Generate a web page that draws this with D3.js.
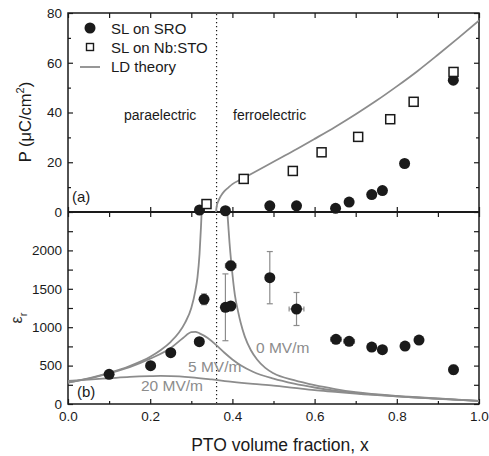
<!DOCTYPE html>
<html>
<head>
<meta charset="utf-8">
<script src="https://cdn.jsdelivr.net/npm/d3@7"></script>
<style>
	body { margin: 0; background: #fff; }
	svg text { font-family: "Liberation Sans", Arial, sans-serif; }
</style>
</head>
<body>
<svg id="canvas" width="489" height="456"></svg>
<script>
// panel (a): polarisation
const sroX = [0.32, 0.383, 0.491, 0.556, 0.651, 0.684, 0.739, 0.765, 0.819, 0.9375];
const sroP = [0.8, 0.5, 2.5, 2.5, 1.5, 4, 7, 8.6, 19.5, 53];
const nbX = [0.337, 0.4275, 0.547, 0.617, 0.706, 0.784, 0.841, 0.938];
const nbP = [3.2, 13.3, 16.5, 24, 30.2, 37.3, 44.3, 56.3];
const ldX = [0.36, 0.362, 0.366, 0.372, 0.38, 0.39, 0.40, 0.42, 0.45, 0.5, 0.55, 0.6, 0.65, 0.7, 0.75, 0.8, 0.85, 0.9, 0.95, 1.0];
const ldP = [0, 2.5, 4.5, 6.5, 8.3, 9.8, 11.2, 13.0, 15.7, 20.2, 24.7, 29.4, 34.2, 39.3, 44.7, 50.5, 56.6, 63.2, 70.0, 77.0];

// panel (b): dielectric constant
const epsX = [0.1, 0.201, 0.25, 0.3195, 0.331, 0.383, 0.396, 0.396, 0.491, 0.556, 0.652, 0.684, 0.739, 0.765, 0.82, 0.854, 0.938];
const epsV = [387, 499, 668, 811, 1363, 1259, 1276, 1801, 1645, 1237, 842, 816, 742, 707, 755, 833, 447];
const epsXErr = [0, 0, 0, 0.01, 0, 0, 0.01, 0.013, 0, 0.018, 0.013, 0.013, 0.008, 0, 0, 0, 0];
const epsYErr = [0, 0, 0, 0, 70, 435, 0, 60, 340, 215, 0, 0, 0, 0, 0, 0, 60];

const e0LeftX = [0, 0.05, 0.1, 0.15, 0.2, 0.225, 0.25, 0.27, 0.285, 0.3, 0.31, 0.315, 0.32, 0.3235, 0.326];
const e0LeftE = [280, 335, 405, 495, 615, 700, 810, 930, 1060, 1250, 1480, 1650, 1950, 2300, 2600];
const e0RightX = [0.386, 0.389, 0.393, 0.398, 0.406, 0.414, 0.42, 0.43, 0.445, 0.46, 0.48, 0.5, 0.55, 0.6, 0.65, 0.7, 0.8, 0.9, 1.0];
const e0RightE = [2600, 2400, 2100, 1800, 1420, 1200, 1060, 880, 700, 580, 470, 400, 310, 245, 195, 155, 105, 72, 40];
const e5X = [0, 0.05, 0.1, 0.15, 0.2, 0.25, 0.28, 0.3, 0.31, 0.32, 0.34, 0.36, 0.38, 0.4, 0.42, 0.45, 0.5, 0.55, 0.6, 0.65, 0.7, 0.8, 0.9, 1.0];
const e5E = [280, 330, 400, 480, 590, 730, 860, 935, 940, 920, 860, 770, 670, 580, 505, 420, 330, 265, 215, 175, 145, 100, 70, 40];
const e20X = [0, 0.05, 0.1, 0.15, 0.2, 0.225, 0.25, 0.3, 0.35, 0.4, 0.45, 0.5, 0.55, 0.6, 0.65, 0.7, 0.8, 0.9, 1.0];
const e20E = [300, 318, 335, 352, 362, 365, 364, 348, 320, 288, 262, 240, 210, 180, 158, 135, 98, 68, 40];

const pTicks = [0, 20, 40, 60, 80];
const pMinor = [10, 30, 50, 70];
const eTicks = [0, 500, 1000, 1500, 2000];
const eMinor = [250, 750, 1250, 1750, 2250];
const xTicks = [0, 0.2, 0.4, 0.6, 0.8, 1.0];
const xMinor = [0.1, 0.3, 0.5, 0.7, 0.9];

const grey = '#8c8c8c';
const ink = '#1a1a1a';

const svg = d3.select('#canvas');

const x = d3.scaleLinear().domain([0, 1]).range([68, 479]);
const yP = d3.scaleLinear().domain([0, 80]).range([212, 13]);
const yE = d3.scaleLinear().domain([0, 2500]).range([404, 212]);

const zip = (xs, ys) => xs.map((v, i) => [v, ys[i]]);

// clip regions
const defs = svg.append('defs');
defs.append('clipPath').attr('id', 'clipA')
	.append('rect').attr('x', 68).attr('y', 13).attr('width', 411).attr('height', 199);
defs.append('clipPath').attr('id', 'clipB')
	.append('rect').attr('x', 68).attr('y', 212).attr('width', 411).attr('height', 192);

// axes helper: draws ticks only, no domain
function ticks(axis, tx, ty, label) {
	const g = svg.append('g').attr('transform', `translate(${tx},${ty})`).call(axis);
	g.select('.domain').remove();
	g.selectAll('.tick line').attr('stroke', ink).attr('stroke-width', 1.2);
	g.selectAll('.tick text').attr('fill', ink).style('font-size', '13.5px');
	if (!label) g.selectAll('.tick text').remove();
	return g;
}

// panel a axes
ticks(d3.axisLeft(yP).tickValues(pTicks).tickSize(-5).tickPadding(6).tickFormat(d3.format('d')), 68, 0, true);
ticks(d3.axisLeft(yP).tickValues(pMinor).tickSize(-3), 68, 0, false);
ticks(d3.axisRight(yP).tickValues(pTicks).tickSize(-5), 479, 0, false);
ticks(d3.axisRight(yP).tickValues(pMinor).tickSize(-3), 479, 0, false);
ticks(d3.axisTop(x).tickValues(xTicks.concat(xMinor)).tickSize(-5), 0, 13, false);
ticks(d3.axisBottom(x).tickValues(xTicks).tickSize(-5), 0, 212, false);

// panel b axes
ticks(d3.axisLeft(yE).tickValues(eTicks).tickSize(-5).tickPadding(6).tickFormat(d3.format('d')), 68, 0, true);
ticks(d3.axisLeft(yE).tickValues(eMinor).tickSize(-5), 68, 0, false);
ticks(d3.axisRight(yE).tickValues(eTicks.concat(eMinor)).tickSize(-5), 479, 0, false);
ticks(d3.axisTop(x).tickValues(xTicks.concat(xMinor)).tickSize(-5), 0, 212, false);
ticks(d3.axisBottom(x).tickValues(xTicks).tickSize(-5).tickPadding(7).tickFormat(d3.format('.1f')), 0, 404, true);
ticks(d3.axisBottom(x).tickValues(xMinor).tickSize(-3), 0, 404, false);

// frame
svg.append('rect')
	.attr('x', 68).attr('y', 13).attr('width', 411).attr('height', 391)
	.attr('fill', 'none').attr('stroke', ink).attr('stroke-width', 1.5);
svg.append('line')
	.attr('x1', 68).attr('x2', 479).attr('y1', 212).attr('y2', 212)
	.attr('stroke', ink).attr('stroke-width', 2.2);

// phase boundary
svg.append('line')
	.attr('x1', x(0.3615)).attr('x2', x(0.3615)).attr('y1', 14).attr('y2', 403)
	.attr('stroke', ink).attr('stroke-width', 1.2).attr('stroke-dasharray', '1.3,2.7');

// theory curves
const lineP = d3.line().x((d) => x(d[0])).y((d) => yP(d[1])).curve(d3.curveMonotoneX);
const lineE = d3.line().x((d) => x(d[0])).y((d) => yE(d[1])).curve(d3.curveMonotoneX);

svg.append('path').datum(zip(ldX, ldP))
	.attr('d', lineP).attr('clip-path', 'url(#clipA)')
	.attr('fill', 'none').attr('stroke', grey).attr('stroke-width', 1.8);

[zip(e0LeftX, e0LeftE), zip(e0RightX, e0RightE), zip(e5X, e5E), zip(e20X, e20E)].forEach((d) => {
	svg.append('path').datum(d)
		.attr('d', lineE).attr('clip-path', 'url(#clipB)')
		.attr('fill', 'none').attr('stroke', grey).attr('stroke-width', 1.8);
});

// error bars
const errs = svg.append('g').attr('stroke', grey).attr('stroke-width', 1.2);
epsX.forEach((xv, i) => {
	const cx = x(xv), cy = yE(epsV[i]);
	if (epsYErr[i] > 0) {
		const y1 = yE(epsV[i] + epsYErr[i]), y2 = yE(epsV[i] - epsYErr[i]);
		errs.append('line').attr('x1', cx).attr('x2', cx).attr('y1', y1).attr('y2', y2);
		errs.append('line').attr('x1', cx - 3).attr('x2', cx + 3).attr('y1', y1).attr('y2', y1);
		errs.append('line').attr('x1', cx - 3).attr('x2', cx + 3).attr('y1', y2).attr('y2', y2);
	}
	if (epsXErr[i] > 0) {
		const x1 = x(xv - epsXErr[i]), x2 = x(xv + epsXErr[i]);
		errs.append('line').attr('x1', x1).attr('x2', x2).attr('y1', cy).attr('y2', cy);
		errs.append('line').attr('x1', x1).attr('x2', x1).attr('y1', cy - 2.5).attr('y2', cy + 2.5);
		errs.append('line').attr('x1', x2).attr('x2', x2).attr('y1', cy - 2.5).attr('y2', cy + 2.5);
	}
});

// markers
svg.append('g').selectAll('circle')
	.data(zip(sroX, sroP))
	.enter()
	.append('circle')
	.attr('cx', (d) => x(d[0]))
	.attr('cy', (d) => yP(d[1]))
	.attr('r', 5.5)
	.attr('fill', ink);

svg.append('g').selectAll('rect')
	.data(zip(nbX, nbP))
	.enter()
	.append('rect')
	.attr('x', (d) => x(d[0]) - 4.5)
	.attr('y', (d) => yP(d[1]) - 4.5)
	.attr('width', 9)
	.attr('height', 9)
	.attr('fill', '#fff')
	.attr('stroke', ink)
	.attr('stroke-width', 1.5);

svg.append('g').selectAll('circle')
	.data(zip(epsX, epsV))
	.enter()
	.append('circle')
	.attr('cx', (d) => x(d[0]))
	.attr('cy', (d) => yE(d[1]))
	.attr('r', 5.5)
	.attr('fill', ink);

// legend
svg.append('circle').attr('cx', 90).attr('cy', 28).attr('r', 5.5).attr('fill', ink);
svg.append('rect').attr('x', 86.5).attr('y', 43.5).attr('width', 7).attr('height', 7)
	.attr('fill', '#fff').attr('stroke', ink).attr('stroke-width', 1.4);
svg.append('line').attr('x1', 80).attr('x2', 100).attr('y1', 67).attr('y2', 67)
	.attr('stroke', grey).attr('stroke-width', 1.8);
const legendText = ['SL on SRO', 'SL on Nb:STO', 'LD theory'];
svg.append('g').selectAll('text')
	.data(legendText)
	.enter()
	.append('text')
	.attr('x', 111)
	.attr('y', (d, i) => 33.5 + i * 19)
	.style('font-size', '15px')
	.attr('fill', ink)
	.text((d) => d);

// annotations
const note = (txt, tx, ty, size, col) => svg.append('text')
	.attr('x', tx).attr('y', ty).style('font-size', size).attr('fill', col).text(txt);
note('paraelectric', 124, 120, '14px', ink);
note('ferroelectric', 233, 120, '14px', ink);
note('(a)', 72, 202, '15px', ink);
note('(b)', 77, 397, '15px', ink);
note('0 MV/m', 256, 353, '15.5px', grey);
note('5 MV/m', 188, 371.5, '15.5px', grey);
note('20 MV/m', 141, 391, '15.5px', grey);

// axis titles
svg.append('text')
	.attr('x', 280).attr('y', 451)
	.attr('text-anchor', 'middle')
	.style('font-size', '17.5px')
	.attr('fill', ink)
	.text('PTO volume fraction, x');

const pLab = svg.append('text')
	.attr('transform', 'translate(31,122) rotate(-90)')
	.attr('text-anchor', 'middle')
	.style('font-size', '16.5px')
	.attr('fill', ink);
pLab.append('tspan').text('P (\u03bcC/cm');
pLab.append('tspan').attr('dy', -7).style('font-size', '11px').text('2');
pLab.append('tspan').attr('dy', 7).text(')');

const eLab = svg.append('text')
	.attr('transform', 'translate(22,318) rotate(-90)')
	.attr('text-anchor', 'middle')
	.style('font-size', '16px')
	.attr('fill', '#333');
eLab.append('tspan').text('\u03b5');
eLab.append('tspan').attr('dy', 5).style('font-size', '11px').text('r');
</script>
</body>
</html>
